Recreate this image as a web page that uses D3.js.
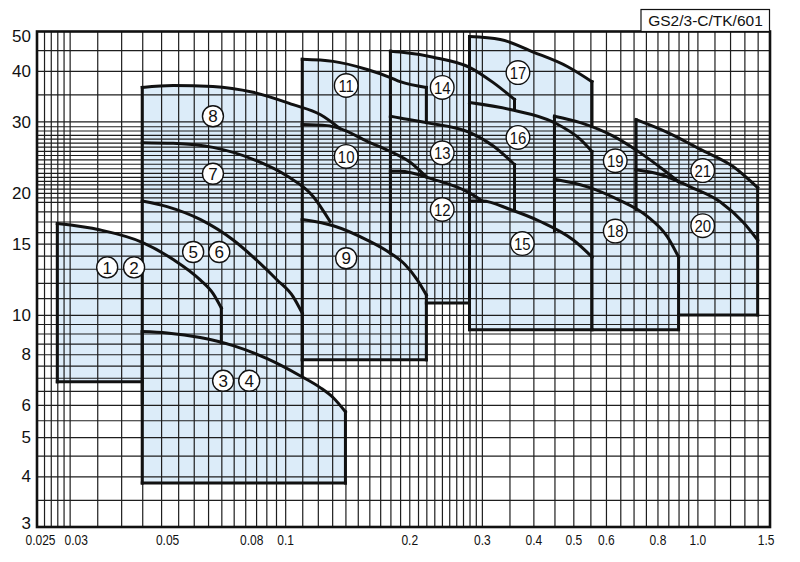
<!DOCTYPE html>
<html><head><meta charset="utf-8">
<script src="https://cdn.jsdelivr.net/npm/d3@7"></script>
<style>body{margin:0;background:#fff} svg{display:block}</style>
</head><body>
<svg id="c" width="800" height="562"></svg>
<script>
// ---------- axis / grid data ----------
const xTickValues = [0.025,0.03,0.05,0.08,0.1,0.2,0.3,0.4,0.5,0.6,0.8,1.0,1.5];
const xTickLabels = ["0.025","0.03","0.05","0.08","0.1","0.2","0.3","0.4","0.5","0.6","0.8","1.0","1.5"];
const yTickValues = [3,4,5,6,8,10,15,20,30,40,50];
const yTickLabels = ["3","4","5","6","8","10","15","20","30","40","50"];
const xGridValues = [0.026,0.027,0.028,0.029,0.03,0.035,0.04,0.045,0.05,0.055,0.06,0.065,0.07,0.075,0.08,0.085,0.09,0.095,
  0.1,0.11,0.12,0.13,0.14,0.15,0.16,0.17,0.18,0.19,0.2,0.21,0.22,0.23,0.24,0.25,0.26,0.27,0.28,0.29,
  0.3,0.35,0.4,0.45,0.5,0.55,0.6,0.65,0.7,0.75,0.8,0.85,0.9,0.95,1.0,1.1,1.2,1.3,1.4];
const yGridValues = [3.5,4,4.5,5,5.5,6,6.5,7,7.5,8,8.5,9,9.5,10,11,12,13,14,15,16,17,18,19,19.5,20,
  20.5,21,21.4,21.9,22.4,23,23.6,24.2,24.8,25.4,26,26.6,27.2,27.8,28.5,29.2,30,35,40,45];
const titleText = "GS2/3-C/TK/601";

// ---------- curves (flow, head) ----------
const curve12 = [[0.028,16.8],[0.0356,16.2],[0.045,15.1],[0.0535,13.7],[0.0622,12.2],[0.0668,11.3],[0.07,10.4]];
const curve34 = [[0.045,9.1],[0.0517,9.03],[0.0622,8.8],[0.0748,8.4],[0.0904,7.8],[0.1087,7.08],[0.1216,6.62],[0.1308,6.25],[0.14,5.77]];
const curve56 = [[0.045,19.1],[0.0517,18.5],[0.0622,17.2],[0.0748,15.3],[0.0869,13.4],[0.0956,12.2],[0.1045,11.1],[0.11,10.1]];
const curve8  = [[0.045,36.4],[0.0535,36.8],[0.0668,36.6],[0.0836,35.4],[0.1045,33.0],[0.1216,31.2],[0.1359,28.8]];
const curve7  = [[0.045,26.6],[0.0535,26.5],[0.0668,25.9],[0.0836,24.2],[0.1011,22.0],[0.1169,19.6],[0.1285,17.0]];
const curve9  = [[0.11,17.2],[0.1308,16.6],[0.1581,15.3],[0.18,14.2],[0.1955,13.3],[0.2091,12.2],[0.22,11.2]];
const curve10 = [[0.11,29.5],[0.1264,29.3],[0.1359,28.8],[0.1581,26.8],[0.18,25.3],[0.201,23.8],[0.22,21.9]];
const curve11 = [[0.11,42.7],[0.1308,42.2],[0.1581,40.3],[0.18,38.5],[0.19,37.6],[0.22,36.4]];
const curve12b = [[0.18,22.6],[0.19,22.6],[0.2287,21.6],[0.28,20.0],[0.3007,19.1]];
const curve13 = [[0.18,30.9],[0.19,30.6],[0.22,29.8],[0.28,28.2],[0.3198,26.1],[0.36,23.5]];
const curve14 = [[0.18,44.7],[0.19,44.5],[0.2287,43.2],[0.28,40.8],[0.3198,37.4],[0.36,34.0]];
const curve15 = [[0.28,19.1],[0.3007,19.1],[0.3515,18.2],[0.4158,17.0],[0.50,15.3],[0.555,13.9]];
const curve16 = [[0.28,33.4],[0.3515,32.1],[0.45,29.8],[0.52,27.1],[0.555,25.3]];
const curve17 = [[0.28,48.6],[0.3325,47.8],[0.3998,44.5],[0.4835,41.0],[0.555,37.6]];
const curve18 = [[0.45,21.6],[0.541,20.7],[0.639,19.3],[0.756,17.5],[0.845,15.6],[0.9,13.9]];
const curve19 = [[0.45,30.9],[0.52,29.8],[0.625,27.6],[0.727,25.1],[0.827,22.8],[0.9,21.3]];
const curve20 = [[0.71,22.8],[0.813,22.2],[0.961,20.7],[1.137,19.0],[1.293,16.9],[1.4,15.3]];
const curve21 = [[0.71,30.3],[0.845,28.2],[1.017,25.6],[1.223,23.2],[1.4,20.6]];

// zones: curve, lowest head of the range, visible edges (head/flow limits)
const zones = [
  {c:curve12, hMin:6.84, left:6.84, right:8.54, bottom:[0.028,0.045]},
  {c:curve34, hMin:3.85, left:3.85, right:3.85, bottom:[0.045,0.14]},
  {c:curve56, hMin:6.07, left:6.07, right:7.1, bottom:null},
  {c:curve8,  hMin:10,   left:19.1, right:null, bottom:null},
  {c:curve7,  hMin:10,   left:null, right:null, bottom:null},
  {c:curve9,  hMin:7.75, left:7.75, right:7.75, bottom:[0.11,0.22]},
  {c:curve10, hMin:12,   left:17.2, right:null, bottom:null},
  {c:curve11, hMin:20,   left:29.5, right:29.8, bottom:null},
  {c:curve12b,hMin:10.7, left:14.2, right:null, bottom:[0.22,0.28]},
  {c:curve13, hMin:15,   left:22.6, right:18.1, bottom:null},
  {c:curve14, hMin:25,   left:30.9, right:32.3, bottom:null},
  {c:curve15, hMin:9.2,  left:9.2,  right:9.2,  bottom:[0.28,0.555]},
  {c:curve16, hMin:12,   left:19.1, right:13.9, bottom:null},
  {c:curve17, hMin:25,   left:33.4, right:29.2, bottom:null},
  {c:curve18, hMin:9.2,  left:16.05,right:9.2,  bottom:[0.555,0.9]},
  {c:curve19, hMin:15,   left:21.6, right:null, bottom:null},
  {c:curve20, hMin:10,   left:18.2, right:10,   bottom:[0.9,1.4]},
  {c:curve21, hMin:12,   left:22.8, right:15.3, bottom:null}
];

// model number labels (flow, head)
const modelLabels = [
  ["1",0.037,13.1],["2",0.043,13.1],["3",0.0707,6.88],["4",0.0818,6.88],
  ["5",0.0598,14.3],["6",0.0692,14.3],["7",0.0668,22.3],["8",0.0668,30.9],
  ["9",0.1406,13.8],["10",0.1406,24.6],["11",0.1406,36.8],
  ["12",0.2404,18.2],["13",0.2404,25.1],["14",0.2404,36.4],
  ["15",0.376,15.0],["16",0.367,27.4],["17",0.367,39.6],
  ["18",0.632,16.1],["19",0.632,24.0],["20",1.03,16.6],["21",1.03,22.7]
];

// ---------- drawing ----------
const svg = d3.select("#c");
const L = 37, R = 770, T = 31.5, B = 527;
const x = d3.scaleLog().domain([0.025,1.5]).range([L,R]);
const y = d3.scaleLog().domain([3,50]).range([B,T]);
const FILL = "#dcecf9";
const FONT = "'Liberation Sans', Arial, Helvetica, sans-serif";

const line = d3.line().x(d=>x(d[0])).y(d=>y(d[1])).curve(d3.curveMonotoneX);

// fills
const gFill = svg.append("g");
zones.forEach(z => {
  const c = z.c, q0 = c[0][0], q1 = c[c.length-1][0];
  const d = line(c) + `L${x(q1)},${y(z.hMin)}L${x(q0)},${y(z.hMin)}Z`;
  gFill.append("path").attr("d", d).attr("fill", FILL).attr("stroke","none");
});

// grid via axes
const gridX = svg.append("g").attr("transform",`translate(0,${B})`)
  .call(d3.axisBottom(x).tickValues(xGridValues).tickSize(-(B-T)).tickFormat(""));
const gridY = svg.append("g").attr("transform",`translate(${L},0)`)
  .call(d3.axisLeft(y).tickValues(yGridValues).tickSize(-(R-L)).tickFormat(""));
[gridX, gridY].forEach(g => {
  g.select(".domain").remove();
  g.selectAll(".tick line").attr("stroke","#1e1e1e").attr("stroke-width",1.2);
});

// border
svg.append("rect").attr("x",L).attr("y",T).attr("width",R-L).attr("height",B-T)
  .attr("fill","none").attr("stroke","#111").attr("stroke-width",2.6);

// zone outlines
const gLine = svg.append("g").attr("fill","none").attr("stroke","#111")
  .attr("stroke-width",3).attr("stroke-linejoin","miter").attr("stroke-linecap","square");
zones.forEach(z => {
  const c = z.c, s = c[0], e = c[c.length-1];
  gLine.append("path").attr("d", line(c));
  if (z.left !== null) gLine.append("line").attr("x1",x(s[0])).attr("x2",x(s[0])).attr("y1",y(s[1])).attr("y2",y(z.left));
  if (z.right !== null) gLine.append("line").attr("x1",x(e[0])).attr("x2",x(e[0])).attr("y1",y(e[1])).attr("y2",y(z.right));
  if (z.bottom) gLine.append("line").attr("x1",x(z.bottom[0])).attr("x2",x(z.bottom[1])).attr("y1",y(z.hMin)).attr("y2",y(z.hMin));
});

// axis labels
const axX = svg.append("g").attr("transform",`translate(0,${B})`)
  .call(d3.axisBottom(x).tickValues(xTickValues).tickSize(0).tickPadding(0).tickFormat((d,i)=>xTickLabels[i]));
axX.select(".domain").remove();
axX.selectAll("text").attr("y",18).attr("dy",0).attr("font-family",FONT).attr("font-size",15).attr("fill","#111")
  .each(function(d,i){
    const t = d3.select(this);
    if (i === 0) t.attr("text-anchor","start").attr("x",-12);
    else if (i === xTickValues.length-1) t.attr("text-anchor","end").attr("x",4);
    else if (d < 0.1) t.attr("x",6);
    const w = this.getComputedTextLength();
    t.attr("textLength", w*0.8).attr("lengthAdjust","spacingAndGlyphs");
  });

const axY = svg.append("g").attr("transform",`translate(${L},0)`)
  .call(d3.axisLeft(y).tickValues(yTickValues).tickSize(0).tickPadding(6).tickFormat((d,i)=>yTickLabels[i]));
axY.select(".domain").remove();
axY.selectAll(".tick").attr("transform", d => `translate(0,${Math.min(Math.max(y(d),36),523)})`);
axY.selectAll("text").attr("font-family",FONT).attr("font-size",17).attr("fill","#111").attr("dy","0.36em");

// model labels
const gLab = svg.append("g");
modelLabels.forEach(([t,q,h]) => {
  const cx = x(q), cy = y(h), r = t.length > 1 ? 11.8 : 10.5;
  gLab.append("circle").attr("cx",cx).attr("cy",cy).attr("r",r)
    .attr("fill","#fff").attr("stroke","#111").attr("stroke-width",1.4);
  const tx = gLab.append("text").attr("x",cx).attr("y",cy).attr("dy","0.36em")
    .attr("text-anchor","middle").attr("font-family",FONT).attr("font-size",17).attr("fill","#111").text(t);
  if (t.length > 1) {
    const w = tx.node().getComputedTextLength();
    tx.attr("textLength", w*0.88).attr("lengthAdjust","spacingAndGlyphs");
  }
});

// title box
svg.append("rect").attr("x",641).attr("y",9.5).attr("width",128.5).attr("height",22)
  .attr("fill","#fff").attr("stroke","#111").attr("stroke-width",1.2);
svg.append("text").attr("x",705.5).attr("y",26).attr("text-anchor","middle")
  .attr("font-family",FONT).attr("font-size",15.5).attr("fill","#111").text(titleText);
</script>
</body></html>
